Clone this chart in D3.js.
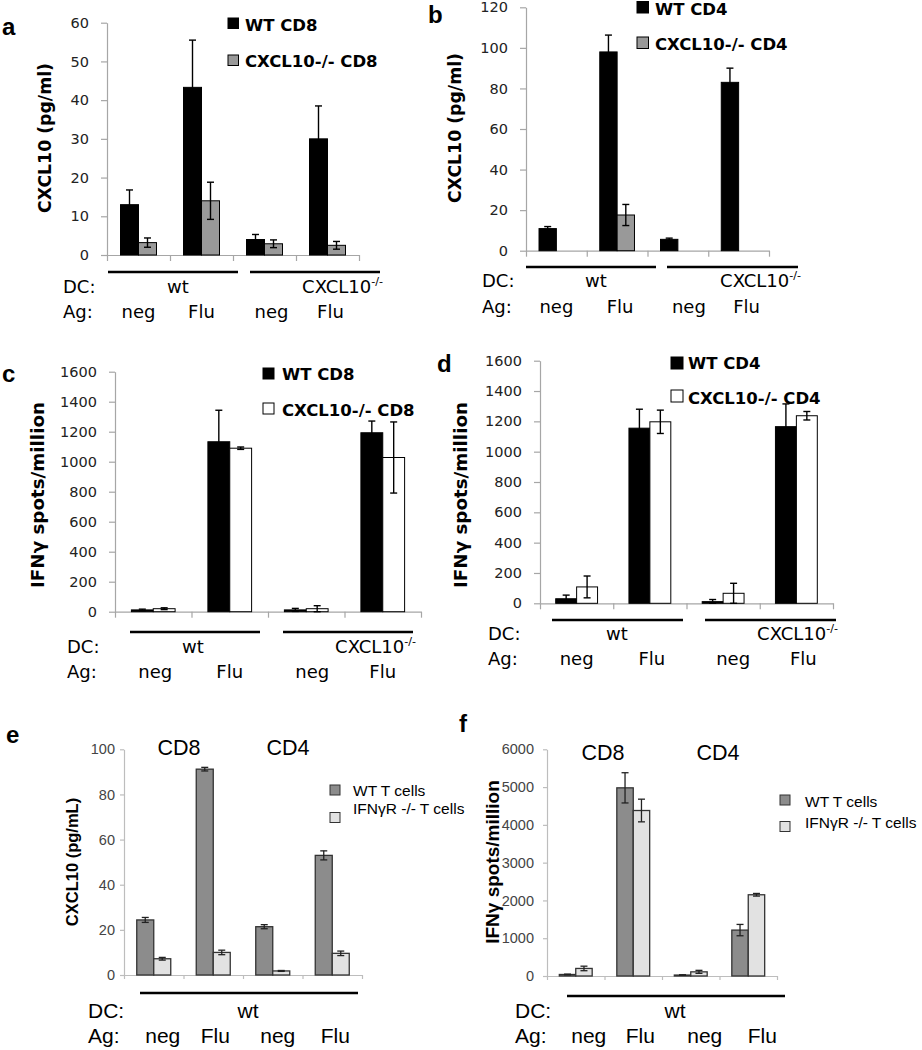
<!DOCTYPE html>
<html>
<head>
<meta charset="utf-8">
<script src="https://cdn.jsdelivr.net/npm/d3@7/dist/d3.min.js"></script>
<style>
  html, body { margin: 0; padding: 0; background: #fff; }
  svg { display: block; }
</style>
</head>
<body>
<svg id="chart" width="922" height="1050"></svg>
<script>
// ---------------- DATA ----------------
const agLabels = ["neg", "Flu", "neg", "Flu"];

// panel a: CXCL10 (pg/ml), CD8
const aSeries = ["WT CD8", "CXCL10-/- CD8"];
const aWT = [13.0, 43.3, 4.0, 30.0];
const aWTErr = [3.8, 12.2, 1.3, 8.5];
const aKO = [3.2, 14.0, 2.9, 2.5];
const aKOErr = [1.2, 4.8, 1.0, 1.0];
const aTicks = [0, 10, 20, 30, 40, 50, 60];

// panel b: CXCL10 (pg/ml), CD4
const bSeries = ["WT CD4", "CXCL10-/- CD4"];
const bWT = [10.9, 98.0, 5.6, 83.0];
const bWTErr = [1.0, 8.3, 0.6, 7.0];
const bKO = [0, 17.6, 0, 0];
const bKOErr = [0, 5.2, 0, 0];
const bTicks = [0, 20, 40, 60, 80, 100, 120];

// panel c: IFNγ spots/million, CD8
const cSeries = ["WT CD8", "CXCL10-/- CD8"];
const cWT = [12, 1133, 12, 1193];
const cWTErr = [5, 210, 10, 78];
const cKO = [20, 1090, 20, 1028];
const cKOErr = [6, 8, 20, 237];
const cTicks = [0, 200, 400, 600, 800, 1000, 1200, 1400, 1600];

// panel d: IFNγ spots/million, CD4
const dSeries = ["WT CD4", "CXCL10-/- CD4"];
const dWT = [30, 1155, 11, 1165];
const dWTErr = [24, 125, 14, 150];
const dKO = [108, 1197, 66, 1237];
const dKOErr = [72, 77, 66, 28];
const dTicks = [0, 200, 400, 600, 800, 1000, 1200, 1400, 1600];

// panel e: CXCL10 (pg/mL), WT vs IFNγR-/- T cells
const eSeries = ["WT T cells", "IFNγR -/- T cells"];
const eWT = [24.4, 91.2, 21.4, 53.0];
const eWTErr = [1.1, 0.8, 0.9, 2.0];
const eKO = [7.2, 10.0, 1.8, 9.6];
const eKOErr = [0.6, 1.0, 0.2, 1.0];
const eTicks = [0, 20, 40, 60, 80, 100];

// panel f: IFNγ spots/million, WT vs IFNγR-/- T cells
const fSeries = ["WT T cells", "IFNγR -/- T cells"];
const fWT = [40, 4980, 25, 1215];
const fWTErr = [10, 400, 8, 150];
const fKO = [200, 4380, 110, 2150];
const fKOErr = [60, 300, 40, 35];
const fTicks = [0, 1000, 2000, 3000, 4000, 5000, 6000];

// ---------------- DRAWING ----------------
const svg = d3.select("#chart");
const SANS = "'DejaVu Sans', sans-serif";
const ARIAL = "'Liberation Sans', Arial, sans-serif";

function drawPanel(cfg) {
  const g = svg.append("g");
  const idx = d3.range(cfg.wt.length);
  const x = d3.scaleBand().domain(idx).range([cfg.x0, cfg.x1]).padding(0);
  const xs = d3.scaleBand().domain([0, 1]).range([0, x.bandwidth()])
    .paddingInner(0).paddingOuter(0.75);
  const y = d3.scaleLinear().domain([0, cfg.ymax]).range([cfg.y0, cfg.yTop]);

  // y axis
  const ya = g.append("g").attr("transform", `translate(${cfg.x0},0)`)
    .call(d3.axisLeft(y).tickValues(cfg.ticks).tickSize(cfg.tickSize)
      .tickSizeOuter(0).tickPadding(cfg.tickPad).tickFormat(d => d));
  ya.select(".domain").attr("stroke", cfg.axisColor).attr("stroke-width", 1.2);
  ya.selectAll(".tick line").attr("stroke", cfg.axisColor).attr("stroke-width", 1.2);
  ya.selectAll(".tick text").attr("font-family", cfg.tickFont)
    .attr("font-size", cfg.tickFontSize).attr("fill", cfg.tickColor);

  // x axis (category boundaries)
  const xb = d3.scaleLinear().domain([0, idx.length]).range([cfg.x0, cfg.x1]);
  const xa = g.append("g").attr("transform", `translate(0,${cfg.y0})`)
    .call(d3.axisBottom(xb).tickValues(d3.range(idx.length + 1))
      .tickSize(cfg.xTickSize).tickSizeOuter(0).tickFormat(""));
  xa.select(".domain").attr("stroke", cfg.axisColor).attr("stroke-width", 1.2);
  xa.selectAll(".tick line").attr("stroke", cfg.axisColor).attr("stroke-width", 1.2);

  // bars
  const rows = [];
  idx.forEach(i => {
    rows.push({ i, s: 0, v: cfg.wt[i], e: cfg.wtErr[i] });
    rows.push({ i, s: 1, v: cfg.ko[i], e: cfg.koErr[i] });
  });
  const vis = rows.filter(r => r.v > 0);
  g.selectAll("rect.bar").data(vis).join("rect").attr("class", "bar")
    .attr("x", r => x(r.i) + xs(r.s))
    .attr("width", xs.bandwidth())
    .attr("y", r => y(r.v))
    .attr("height", r => cfg.y0 - y(r.v))
    .attr("fill", r => cfg.fills[r.s])
    .attr("stroke", r => cfg.strokes[r.s])
    .attr("stroke-width", cfg.barStrokeW);

  // error bars
  const eg = g.append("g").attr("stroke", cfg.errColor).attr("stroke-width", cfg.errW).attr("fill", "none");
  vis.filter(r => r.e > 0).forEach(r => {
    const cx = x(r.i) + xs(r.s) + xs.bandwidth() / 2;
    const lo = y(Math.max(0, r.v - r.e)), hi = y(r.v + r.e);
    eg.append("line").attr("x1", cx).attr("x2", cx).attr("y1", lo).attr("y2", hi);
    eg.append("line").attr("x1", cx - cfg.cap).attr("x2", cx + cfg.cap).attr("y1", lo).attr("y2", lo);
    eg.append("line").attr("x1", cx - cfg.cap).attr("x2", cx + cfg.cap).attr("y1", hi).attr("y2", hi);
  });

  // y title
  g.append("text")
    .attr("transform", `translate(${cfg.yTitleX},${cfg.yTitleY}) rotate(-90)`)
    .attr("text-anchor", "middle").attr("dominant-baseline", "central")
    .attr("font-family", cfg.titleFont).attr("font-weight", "bold")
    .attr("font-size", cfg.yTitleSize).attr("fill", "#000")
    .text(cfg.yTitle);

  // panel letter
  g.append("text").attr("x", cfg.letterX).attr("y", cfg.letterY)
    .attr("font-family", ARIAL).attr("font-weight", "bold")
    .attr("font-size", 24).text(cfg.letter);

  // legend
  cfg.series.forEach((name, s) => {
    g.append("rect").attr("x", cfg.legX).attr("y", cfg.legSqY[s])
      .attr("width", cfg.legSq).attr("height", cfg.legSq)
      .attr("fill", cfg.fills[s]).attr("stroke", cfg.strokes[s]).attr("stroke-width", 1);
    g.append("text").attr("x", cfg.legTextX).attr("y", cfg.legTextY[s])
      .attr("font-family", cfg.legFont).attr("font-weight", cfg.legWeight)
      .attr("font-size", cfg.legSize).attr("fill", "#000").text(name);
  });

  // top labels (CD8 / CD4)
  if (cfg.topLabels) {
    cfg.topLabels.forEach(t => {
      g.append("text").attr("x", t.x).attr("y", t.y).attr("text-anchor", "middle")
        .attr("font-family", ARIAL).attr("font-size", 21.5).text(t.text);
    });
  }

  // group lines
  cfg.groupLines.forEach(l => {
    g.append("line").attr("x1", l[0]).attr("x2", l[1]).attr("y1", cfg.groupY).attr("y2", cfg.groupY)
      .attr("stroke", "#000").attr("stroke-width", 2.6);
  });

  // DC row
  const lf = cfg.labFont, ls = cfg.labSize;
  g.append("text").attr("x", cfg.labX).attr("y", cfg.dcY).attr("font-family", lf).attr("font-size", ls).text("DC:");
  g.append("text").attr("x", cfg.wtX).attr("y", cfg.dcY).attr("text-anchor", "middle")
    .attr("font-family", lf).attr("font-size", ls).text("wt");
  if (cfg.koX) {
    const t = g.append("text").attr("x", cfg.koX).attr("y", cfg.dcY).attr("text-anchor", "end")
      .attr("font-family", lf).attr("font-size", ls);
    t.append("tspan").text("CXCL10");
    t.append("tspan").attr("dy", -8).attr("font-size", ls * 0.62).text("-/-");
  }
  // Ag row
  g.append("text").attr("x", cfg.labX).attr("y", cfg.agY).attr("font-family", lf).attr("font-size", ls).text("Ag:");
  idx.forEach(i => {
    g.append("text").attr("x", x(i) + x.bandwidth() / 2 + cfg.agDx[i]).attr("y", cfg.agY)
      .attr("text-anchor", "middle").attr("font-family", lf).attr("font-size", ls).text(agLabels[i]);
  });
}

const styleTop = {
  axisColor: "#a6a6a6", tickFont: SANS, tickFontSize: 14.5, tickColor: "#222",
  tickSize: 6, tickPad: 12, xTickSize: 6, barStrokeW: 1, errColor: "#000", errW: 1.4, cap: 3.5,
  titleFont: SANS, legFont: SANS, legWeight: "bold", legSize: 16.5, labFont: SANS, labSize: 18
};
const styleBot = {
  axisColor: "#bdbdbd", tickFont: ARIAL, tickFontSize: 14.5, tickColor: "#444",
  tickSize: 4, tickPad: 5, xTickSize: 4, barStrokeW: 1.3, errColor: "#222", errW: 1.3, cap: 3.5,
  titleFont: ARIAL, legFont: ARIAL, legWeight: "normal", legSize: 15.5, labFont: ARIAL, labSize: 21,
  fills: ["#8c8c8c", "#e2e2e2"], strokes: ["#333", "#333"]
};

drawPanel(Object.assign({}, styleTop, {
  letter: "a", letterX: 2, letterY: 35,
  series: aSeries, wt: aWT, wtErr: aWTErr, ko: aKO, koErr: aKOErr, ticks: aTicks, ymax: 60,
  x0: 107, x1: 359, y0: 255, yTop: 22.7,
  fills: ["#000", "#999"], strokes: ["#000", "#000"],
  yTitle: "CXCL10 (pg/ml)", yTitleX: 45, yTitleY: 138, yTitleSize: 17.3,
  legX: 228, legSqY: [18, 55], legSq: 10.5, legTextX: 245, legTextY: [30.5, 66.5],
  groupY: 272, groupLines: [[108, 238], [250, 380]],
  labX: 63, dcY: 293, agY: 318, wtX: 178, koX: 383, agDx: [0, 0, 7, 3]
}));

drawPanel(Object.assign({}, styleTop, {
  letter: "b", letterX: 428, letterY: 23,
  series: bSeries, wt: bWT, wtErr: bWTErr, ko: bKO, koErr: bKOErr, ticks: bTicks, ymax: 120,
  x0: 526, x1: 769, y0: 250.7, yTop: 7.3,
  fills: ["#000", "#999"], strokes: ["#000", "#000"],
  yTitle: "CXCL10 (pg/ml)", yTitleX: 455, yTitleY: 128, yTitleSize: 17.3,
  legX: 637, legSqY: [1.5, 37], legSq: 11.5, legTextX: 655, legTextY: [15, 50],
  groupY: 267, groupLines: [[526, 656], [667, 798]],
  labX: 482, dcY: 287, agY: 313, wtX: 596, koX: 801, agDx: [0, 3, 11, 8]
}));

drawPanel(Object.assign({}, styleTop, {
  letter: "c", letterX: 2, letterY: 382,
  series: cSeries, wt: cWT, wtErr: cWTErr, ko: cKO, koErr: cKOErr, ticks: cTicks, ymax: 1600,
  x0: 115, x1: 421, y0: 611.7, yTop: 371.7,
  fills: ["#000", "#fff"], strokes: ["#000", "#000"],
  yTitle: "IFNγ spots/million", yTitleX: 37, yTitleY: 495, yTitleSize: 18.3,
  legX: 263, legSqY: [368, 403], legSq: 11, legTextX: 282, legTextY: [380, 416],
  groupY: 632, groupLines: [[130, 260], [283, 413]],
  labX: 67, dcY: 653, agY: 678, wtX: 193, koX: 416, agDx: [2, 0, 6, 0]
}));

drawPanel(Object.assign({}, styleTop, {
  letter: "d", letterX: 437, letterY: 372,
  series: dSeries, wt: dWT, wtErr: dWTErr, ko: dKO, koErr: dKOErr, ticks: dTicks, ymax: 1600,
  x0: 540, x1: 833, y0: 603.3, yTop: 360.7,
  fills: ["#000", "#fff"], strokes: ["#000", "#000"],
  yTitle: "IFNγ spots/million", yTitleX: 460, yTitleY: 495, yTitleSize: 18.3,
  legX: 671, legSqY: [357, 390], legSq: 12, legTextX: 688, legTextY: [369, 404],
  groupY: 620, groupLines: [[552, 683], [705, 836]],
  labX: 488, dcY: 640, agY: 665, wtX: 617, koX: 838, agDx: [0, 2, 10, 7]
}));

drawPanel(Object.assign({}, styleBot, {
  letter: "e", letterX: 6, letterY: 743,
  series: eSeries, wt: eWT, wtErr: eWTErr, ko: eKO, koErr: eKOErr, ticks: eTicks, ymax: 100,
  x0: 124, x1: 362, y0: 975, yTop: 749.3,
  yTitle: "CXCL10 (pg/mL)", yTitleX: 72, yTitleY: 862, yTitleSize: 16.5,
  legX: 330, legSqY: [785, 812.5], legSq: 10, legTextX: 353, legTextY: [796, 814],
  topLabels: [{ text: "CD8", x: 179, y: 755 }, { text: "CD4", x: 288, y: 755 }],
  groupY: 993, groupLines: [[140, 358]],
  labX: 88, dcY: 1018, agY: 1043, wtX: 248, koX: null, agDx: [9, 2, 5, 3]
}));

drawPanel(Object.assign({}, styleBot, {
  letter: "f", letterX: 459, letterY: 732,
  series: fSeries, wt: fWT, wtErr: fWTErr, ko: fKO, koErr: fKOErr, ticks: fTicks, ymax: 6000,
  x0: 547, x1: 777, y0: 976, yTop: 749.3,
  tickPad: 9,
  yTitle: "IFNγ spots/million", yTitleX: 492, yTitleY: 862, yTitleSize: 19,
  legX: 780, legSqY: [795, 821.5], legSq: 10, legTextX: 805, legTextY: [806.5, 827.5],
  topLabels: [{ text: "CD8", x: 603, y: 760 }, { text: "CD4", x: 718, y: 760 }],
  groupY: 996, groupLines: [[567, 785]],
  labX: 515, dcY: 1018, agY: 1043, wtX: 675, koX: null, agDx: [13, 7, 14, 14]
}));
</script>
</body>
</html>
